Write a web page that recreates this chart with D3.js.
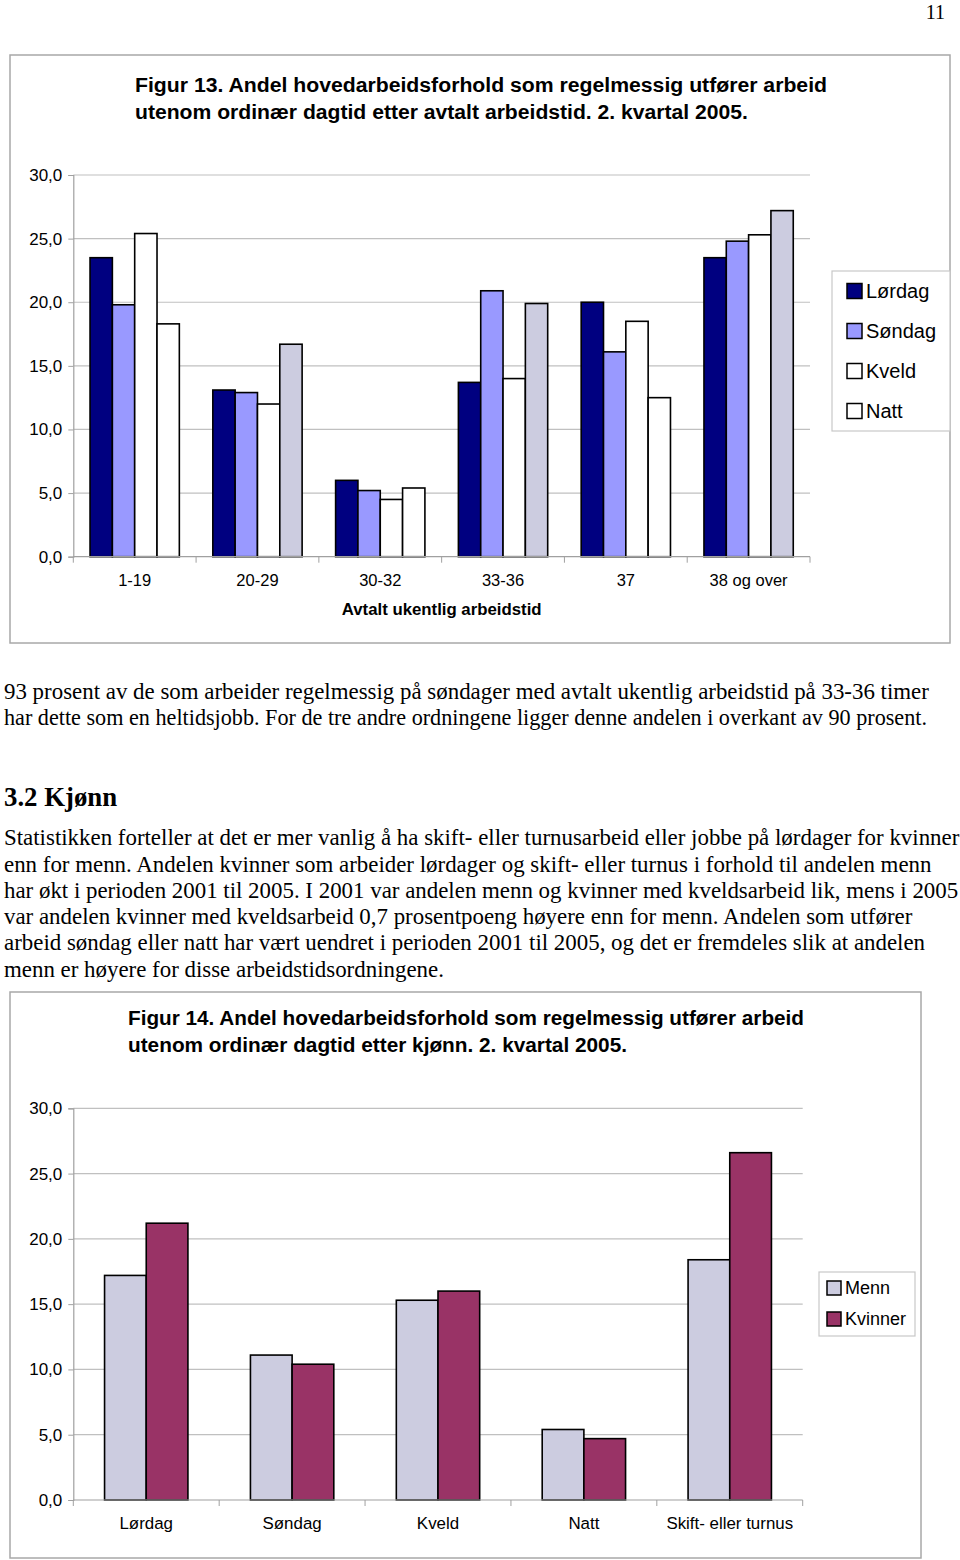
<!DOCTYPE html>
<html><head><meta charset="utf-8">
<script src="https://cdn.jsdelivr.net/npm/d3@7"></script>
<style>body{margin:0;background:#fff}svg{display:block}</style>
</head><body>
<script>
// ---- Data: Figur 13 ----
const hoursCategories = ["1-19", "20-29", "30-32", "33-36", "37", "38 og over"];
const series13 = ["Lørdag", "Søndag", "Kveld", "Natt"];
const lordag13 = [23.5, 13.1, 6.0, 13.7, 20.0, 23.5];
const sondag13 = [19.8, 12.9, 5.2, 20.9, 16.1, 24.8];
const kveld13  = [25.4, 12.0, 4.5, 14.0, 18.5, 25.3];
const natt13   = [18.3, 16.7, 5.4, 19.9, 12.5, 27.2];
// ---- Data: Figur 14 ----
const ordningCategories = ["Lørdag", "Søndag", "Kveld", "Natt", "Skift- eller turnus"];
const series14 = ["Menn", "Kvinner"];
const menn14    = [17.2, 11.1, 15.3, 5.4, 18.4];
const kvinner14 = [21.2, 10.4, 16.0, 4.7, 26.6];
const yTicks = [0, 5, 10, 15, 20, 25, 30];

const W = 960, H = 1560;
const svg = d3.select("body").append("svg").attr("width", W).attr("height", H);
const sans = "'Liberation Sans', Arial, sans-serif";
const serif = "'Liberation Serif', 'Times New Roman', serif";
const fmt = v => v.toFixed(1).replace(".", ",");

function fit(sel, w) {
  sel.each(function(){ const n = this; if (w && n.getComputedTextLength() > 0) d3.select(n).attr("textLength", w).attr("lengthAdjust", "spacingAndGlyphs"); });
}

// page number
svg.append("text").attr("x", 945).attr("y", 19).attr("text-anchor", "end")
  .attr("font-family", serif).attr("font-size", 20).text("11");

function chart(cfg) {
  const g = svg.append("g");
  g.append("rect").attr("x", cfg.frame[0]).attr("y", cfg.frame[1])
    .attr("width", cfg.frame[2]).attr("height", cfg.frame[3])
    .attr("fill", "#fff").attr("stroke", "#a8a8a8").attr("stroke-width", 1.5);
  cfg.title.forEach((t, i) => {
    g.append("text").attr("x", cfg.titleX).attr("y", cfg.titleY + i * 27)
      .attr("font-family", sans).attr("font-weight", "bold").attr("font-size", cfg.titleSize)
      .text(t[0]).call(fit, t[1]);
  });
  const x = d3.scaleBand().domain(cfg.cats).range([cfg.x0, cfg.x1]).paddingInner(0).paddingOuter(0);
  const y = d3.scaleLinear().domain([0, 30]).range([cfg.y0, cfg.y1]);
  const nS = cfg.series.length;
  const bw = x.bandwidth() / (nS + 1.5);
  const xs = d3.scaleBand().domain(d3.range(nS)).range([bw * 0.75, bw * 0.75 + bw * nS]);

  // gridlines
  g.append("g").selectAll("line").data(yTicks.filter(d => d > 0)).join("line")
    .attr("x1", cfg.x0).attr("x2", cfg.x1).attr("y1", d => y(d)).attr("y2", d => y(d))
    .attr("stroke", "#c0c0c0").attr("stroke-width", 1.2);

  // y axis
  const ya = g.append("g").attr("transform", `translate(${cfg.x0},0)`)
    .call(d3.axisLeft(y).tickValues(yTicks).tickFormat(fmt).tickSize(5).tickPadding(6));
  ya.select(".domain").attr("stroke", "#a0a0a0").attr("stroke-width", 1.2);
  ya.selectAll(".tick line").attr("stroke", "#a0a0a0");
  ya.selectAll("text").attr("font-family", sans).attr("font-size", 17).attr("fill", "#000");

  // bars
  cfg.values.forEach((vals, si) => {
    g.append("g").selectAll("rect").data(vals).join("rect")
      .attr("x", (d, i) => x(cfg.cats[i]) + xs(si))
      .attr("y", d => y(d)).attr("width", xs.bandwidth()).attr("height", d => y(0) - y(d))
      .attr("fill", (d, i) => cfg.fill(si, i)).attr("stroke", "#000").attr("stroke-width", 1.6);
  });

  // x axis
  const xa = g.append("g").attr("transform", `translate(0,${cfg.y0})`);
  xa.append("line").attr("x1", cfg.x0).attr("x2", cfg.x1).attr("stroke", "#a0a0a0").attr("stroke-width", 1.2);
  xa.selectAll("line.t").data(d3.range(cfg.cats.length + 1)).join("line").attr("class", "t")
    .attr("x1", i => cfg.x0 + i * x.step()).attr("x2", i => cfg.x0 + i * x.step())
    .attr("y1", 0).attr("y2", 6).attr("stroke", "#a0a0a0");
  xa.selectAll("text").data(cfg.cats).join("text")
    .attr("x", d => x(d) + x.bandwidth() / 2).attr("y", cfg.xLabelDy)
    .attr("text-anchor", "middle").attr("font-family", sans).attr("font-size", cfg.xLabelSize).text(d => d);
  if (cfg.axisTitle) {
    g.append("text").attr("x", (cfg.x0 + cfg.x1) / 2).attr("y", cfg.axisTitleY).attr("text-anchor", "middle")
      .attr("font-family", sans).attr("font-weight", "bold").attr("font-size", 16.8).text(cfg.axisTitle);
  }

  // legend
  const L = cfg.legend;
  g.append("rect").attr("x", L.x).attr("y", L.y).attr("width", L.w).attr("height", L.h)
    .attr("fill", "#fff").attr("stroke", "#c8c8c8").attr("stroke-width", 1.2);
  const li = g.append("g").selectAll("g").data(cfg.series).join("g")
    .attr("transform", (d, i) => `translate(${L.x + L.padX},${L.y + L.first + i * L.step})`);
  li.append("rect").attr("x", 0).attr("y", -L.sq / 2).attr("width", L.sq).attr("height", L.sq)
    .attr("fill", (d, i) => cfg.legendFill[i]).attr("stroke", "#000").attr("stroke-width", 1.5);
  li.append("text").attr("x", L.sq + 4).attr("y", 0).attr("dy", "0.35em")
    .attr("font-family", sans).attr("font-size", L.font).text(d => d);
}

const navy = "#000080", periwinkle = "#9999FF", lav = "#CCCCE0", plum = "#993366";
const nattLavender = [false, true, false, true, false, true];

chart({
  frame: [10, 55, 940, 588],
  title: [["Figur 13. Andel hovedarbeidsforhold som regelmessig utfører arbeid", 692],
          ["utenom ordinær dagtid etter avtalt arbeidstid. 2. kvartal 2005.", 613]],
  titleX: 135, titleY: 92, titleSize: 20,
  cats: hoursCategories, series: series13,
  values: [lordag13, sondag13, kveld13, natt13],
  fill: (si, i) => [navy, periwinkle, "#fff", nattLavender[i] ? lav : "#fff"][si],
  legendFill: [navy, periwinkle, "#fff", "#fff"],
  x0: 73.3, x1: 810, y0: 556.7, y1: 175,
  xLabelDy: 29, xLabelSize: 16.5,
  axisTitle: "Avtalt ukentlig arbeidstid", axisTitleY: 615,
  legend: {x: 832, y: 271, w: 118, h: 160, padX: 15, first: 20, step: 40, sq: 15, font: 20}
});

// body text
const body = [
  ["93 prosent av de som arbeider regelmessig på søndager med avtalt ukentlig arbeidstid på 33-36 timer", 699, 0],
  ["har dette som en heltidsjobb. For de tre andre ordningene ligger denne andelen i overkant av 90 prosent.", 725, 923],
  ["Statistikken forteller at det er mer vanlig å ha skift- eller turnusarbeid eller jobbe på lørdager for kvinner", 845, 0],
  ["enn for menn. Andelen kvinner som arbeider lørdager og skift- eller turnus i forhold til andelen menn", 872, 0],
  ["har økt i perioden 2001 til 2005. I 2001 var andelen menn og kvinner med kveldsarbeid lik, mens i 2005", 898, 0],
  ["var andelen kvinner med kveldsarbeid 0,7 prosentpoeng høyere enn for menn. Andelen som utfører", 924, 0],
  ["arbeid søndag eller natt har vært uendret i perioden 2001 til 2005, og det er fremdeles slik at andelen", 950, 0],
  ["menn er høyere for disse arbeidstidsordningene.", 977, 0]
];
svg.append("g").selectAll("text").data(body).join("text")
  .attr("x", 4).attr("y", d => d[1]).attr("font-family", serif).attr("font-size", 22.9).text(d => d[0])
  .each(function(d){ d3.select(this).call(fit, d[2]); });
svg.append("text").attr("x", 4).attr("y", 806).attr("font-family", serif).attr("font-weight", "bold")
  .attr("font-size", 26.8).text("3.2 Kjønn");

chart({
  frame: [10, 992, 911, 566],
  title: [["Figur 14. Andel hovedarbeidsforhold som regelmessig utfører arbeid", 676],
          ["utenom ordinær dagtid etter kjønn. 2. kvartal 2005.", 499]],
  titleX: 128, titleY: 1025, titleSize: 19.5,
  cats: ordningCategories, series: series14,
  values: [menn14, kvinner14],
  fill: (si, i) => [lav, plum][si],
  legendFill: [lav, plum],
  x0: 73.3, x1: 802.7, y0: 1500, y1: 1108.3,
  xLabelDy: 29, xLabelSize: 16.9,
  axisTitle: null,
  legend: {x: 819, y: 1272, w: 96, h: 64, padX: 8, first: 16, step: 31, sq: 14, font: 18}
});
</script>
</body></html>
